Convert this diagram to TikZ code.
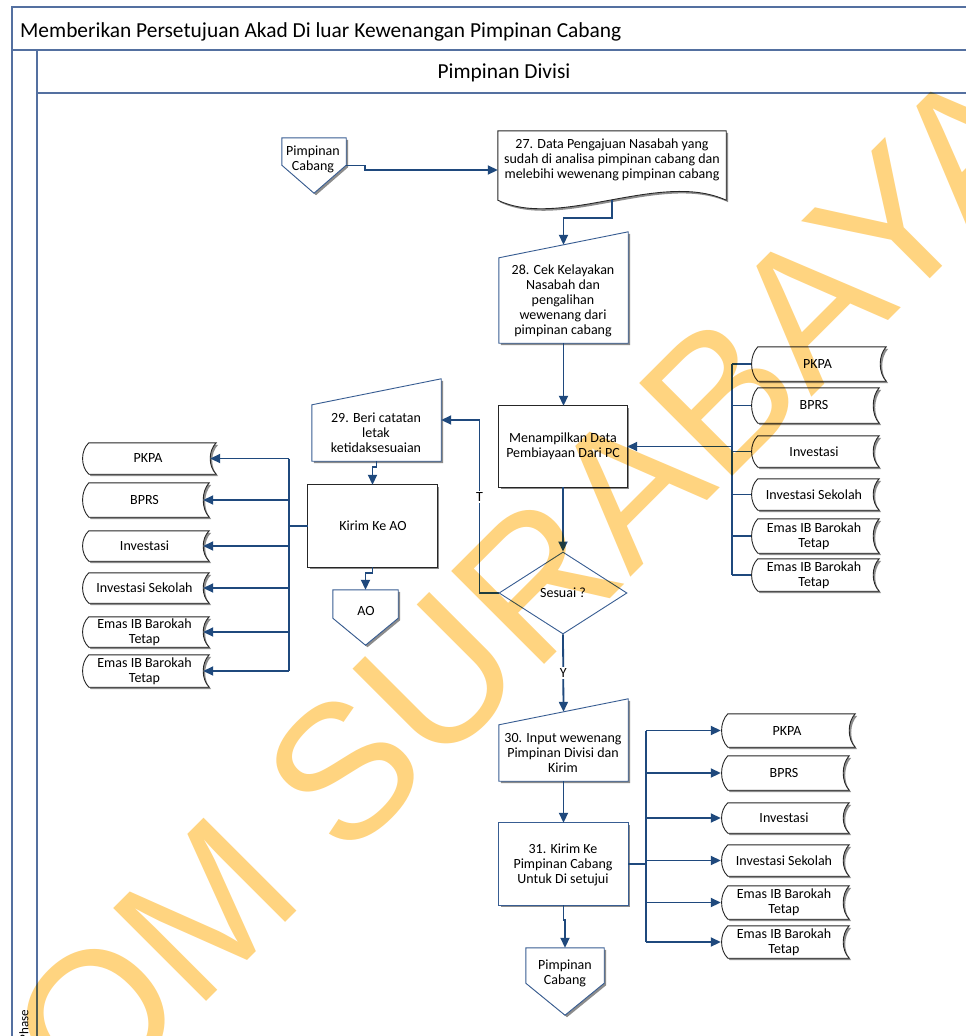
\documentclass[tikz,border=0pt]{standalone}
\usepackage{fontspec}
\setmainfont{Carlito}
\newfontfamily\wmfont{Liberation Sans}
\usetikzlibrary{arrows.meta,shapes.geometric,calc,fit,shadows}

\definecolor{flow}{RGB}{31,73,125}
\definecolor{edgeblue}{RGB}{56,93,146}
\definecolor{lanec}{RGB}{84,112,160}
\definecolor{wmcol}{RGB}{255,212,128}

\tikzset{
  conn/.style={draw=flow, line width=1.8pt, -{Triangle[length=10pt,width=9pt]}},
  plain/.style={draw=flow, line width=1.8pt},
  sh/.style={drop shadow={shadow xshift=2pt,shadow yshift=-2pt,opacity=1,fill=black!45}},
  blueout/.style={draw=edgeblue, line width=0.9pt, fill=white, sh},
  blackout/.style={draw=black!85, line width=0.9pt, fill=white, sh},
  txt/.style={font=\fontsize{14}{15}\selectfont, align=center, inner sep=0},
  area/.style={inner sep=0, draw=none},
  lbl/.style={font=\fontsize{14}{15}\selectfont, fill=white, inner sep=1.5pt},
  lanetext/.style={font=\fontsize{21.4}{25}\selectfont, inner sep=0},
}

% manual input: slanted top edge
\newcommand\maninshape[2]{\path[#2] ([yshift=-26pt]#1.north west) -- (#1.north east) -- (#1.south east) -- (#1.south west) -- cycle;}
% off-page connector: pentagon pointing down
\newcommand\offpageshape[2]{\path[blueout] (#1.north west) -- (#1.north east) -- ([yshift=#2]#1.south east) -- (#1.south) -- ([yshift=#2]#1.south west) -- cycle;}
% stored data
\newcommand\storeshape[1]{\path[blackout] ([xshift=7pt]#1.north west) -- (#1.north east)
  .. controls ($(#1.north east)!0.25!(#1.south east)+(-8,0)$) and ($(#1.north east)!0.75!(#1.south east)+(-8,0)$) .. (#1.south east)
  -- ([xshift=7pt]#1.south west)
  .. controls ($(#1.south west)!0.25!(#1.north west)+(-1.3,0)$) and ($(#1.south west)!0.75!(#1.north west)+(-1.3,0)$) .. ([xshift=7pt]#1.north west) -- cycle;}
% a stored-data box with its text
\newcommand\store[6]{%
  \node[area, fit={(#2,#3) (#4,#5)}] (#1) {};
  \storeshape{#1}
  \node[txt] (#1-t) at ([xshift=-1pt]#1.center) {#6};}

\begin{document}
\begin{tikzpicture}[x=1pt,y=-1pt]
\useasboundingbox (0,0) rectangle (966,1036);
\fill[white] (0,0) rectangle (966,1036);

% pool and lane frame
\draw[lanec, line width=1.2pt] (12,1040) -- (12,7) -- (970,7);
\draw[lanec, line width=1.2pt] (12,50) -- (970,50);
\draw[lanec, line width=1.5pt] (37,1040) -- (37,50);
\draw[lanec, line width=1.2pt] (37,93) -- (970,93);
\node[lanetext, anchor=base west] (title) at (20,37) {Memberikan Persetujuan Akad Di luar Kewenangan Pimpinan Cabang};
\node[lanetext, anchor=base] (lane) at (504,78) {Pimpinan Divisi};
\node[rotate=90, anchor=east, inner sep=0, font=\fontsize{13}{15}\selectfont] (phase) at (24,1010) {Phase};

% shapes
\node[area, fit={(282,138) (346,193)}] (pc1) {};
\offpageshape{pc1}{28pt}
\node[txt] (pc1-t) at (313,159) {Pimpinan\\Cabang};

\node[area, fit={(498,131) (726,200)}] (d27) {};
\path[blackout] (d27.north west) -- (d27.north east) -- (d27.south east)
  .. controls (660,170) and (560,230) .. (d27.south west) -- cycle;
\node[txt] (d27-t) at (612,160) {27. Data Pengajuan Nasabah yang\\sudah di analisa pimpinan cabang dan\\melebihi wewenang pimpinan cabang};

\node[area, fit={(499,232) (628,343)}] (m28) {};
\maninshape{m28}{blueout}
\node[txt] (m28-t) at (563,301) {28. Cek Kelayakan\\Nasabah dan\\pengalihan\\wewenang dari\\pimpinan cabang};

\node[area, fit={(499,406) (627,487)}] (men) {};
\path[blackout] (men.north west) rectangle (men.south east);
\node[txt] (men-t) at (563,446.5) {Menampilkan Data\\Pembiayaan Dari PC};

\node[diamond, draw=edgeblue, line width=0.9pt, fill=white, minimum width=128pt, minimum height=82pt, txt] (dia) at (563,593) {Sesuai ?};

\node[area, fit={(312,379) (441,461)}] (m29) {};
\maninshape{m29}{blueout}
\node[txt] (m29-t) at (376,433) {29. Beri catatan\\letak\\ketidaksesuaian};

\node[area, fit={(308,485) (437,567)}] (kirim) {};
\path[blackout] (kirim.north west) rectangle (kirim.south east);
\node[txt] (kirim-t) at (373,526) {Kirim Ke AO};

\node[area, fit={(333,590) (398,645)}] (ao) {};
\offpageshape{ao}{27pt}
\node[txt] (ao-t) at (366,611) {AO};

\node[area, fit={(499,699) (628,781)}] (m30) {};
\maninshape{m30}{blueout}
\node[txt] (m30-t) at (563,753) {30. Input wewenang\\Pimpinan Divisi dan\\Kirim};

\node[area, fit={(499,823) (628,905)}] (p31) {};
\path[blueout] (p31.north west) rectangle (p31.south east);
\node[txt] (p31-t) at (563,864.5) {31. Kirim Ke\\Pimpinan Cabang\\Untuk Di setujui};

\node[area, fit={(526,948) (604,1015)}] (pc2) {};
\offpageshape{pc2}{32pt}
\node[txt] (pc2-t) at (565,973.5) {Pimpinan\\Cabang};

% stored data, left group
\store{ls1}{82}{443}{216}{474}{PKPA}
\store{ls2}{82}{483}{209}{517}{BPRS}
\store{ls3}{82}{531}{209}{561}{Investasi}
\store{ls4}{82}{573}{209}{603}{Investasi Sekolah}
\store{ls5}{82}{617}{209}{647}{Emas IB Barokah\\Tetap}
\store{ls6}{82}{655}{209}{687}{Emas IB Barokah\\Tetap}

% stored data, right group
\store{rs1}{751}{347}{886}{381}{PKPA}
\store{rs2}{751}{388}{879}{423}{BPRS}
\store{rs3}{751}{436}{879}{467}{Investasi}
\store{rs4}{751}{479}{879}{510}{Investasi Sekolah}
\store{rs5}{751}{519}{879}{553}{Emas IB Barokah\\Tetap}
\store{rs6}{751}{559}{879}{591}{Emas IB Barokah\\Tetap}

% stored data, bottom group
\store{bs1}{721}{714}{855}{747}{PKPA}
\store{bs2}{721}{756}{849}{790}{BPRS}
\store{bs3}{721}{803}{849}{833}{Investasi}
\store{bs4}{721}{845}{849}{876}{Investasi Sekolah}
\store{bs5}{721}{886}{849}{919}{Emas IB Barokah\\Tetap}
\store{bs6}{721}{926}{849}{958}{Emas IB Barokah\\Tetap}

% main flow
\draw[conn] (pc1.east) -- ++(19,0) |- ([yshift=-4.5pt]d27.west);
\draw[conn] (d27.south) -- ++(0,18) -| ([yshift=-13pt]m28.north);
\draw[conn] (m28.south) -- (m28.south |- men.north);
\draw[conn] (men.south) -- (dia.north);
\draw[conn] (dia.west) -- ++(-19,0) |- node[lbl, pos=0.277] (tl) {T} (m29.east);
\draw[conn] (dia.south) -- node[lbl] (yl) {Y} ([yshift=-13pt]m30.north);
\draw[conn] (m29.south) -- ++(0,6) -| (kirim.north);
\draw[conn] (kirim.south) -- ++(0,6) -| (ao.north);
\draw[conn] (m30.south) -- (m30.south |- p31.north);
\draw[conn] (p31.south) -- ++(0,15) -| (pc2.north);

% left fan-out
\draw[plain] (kirim.west) -- ++(-19,0) coordinate (lt);
\draw[plain] (lt |- ls1.east) -- (lt |- ls6.east);
\foreach \s in {ls1,ls2,ls3,ls4,ls5,ls6}
  \draw[conn] (lt |- \s.east) -- ([xshift=-6pt]\s.east);

% right fan-in
\coordinate (rt) at (732,447);
\draw[plain] (rt |- rs1.west) -- (rt |- rs6.west);
\foreach \s in {rs1,rs2,rs3,rs4,rs5,rs6}
  \draw[plain] (rt |- \s.west) -- (\s.west);
\draw[conn] (men.east -| rt) -- (men.east);

% bottom fan-out
\draw[plain] (p31.east) -- ++(18,0) coordinate (bt);
\draw[plain] (bt |- bs1.west) -- (bt |- bs6.west);
\foreach \s in {bs1,bs2,bs3,bs4,bs5,bs6}
  \draw[conn] (bt |- \s.west) -- (\s.west);

% watermark
\begin{scope}[blend mode=multiply]
\node[rotate=45, anchor=base west, inner sep=0, text=wmcol, font=\wmfont\fontsize{191}{191}\selectfont] (wmark) at (90.7,1118) {OM SURABAYA};
\end{scope}
\end{tikzpicture}
\end{document}
